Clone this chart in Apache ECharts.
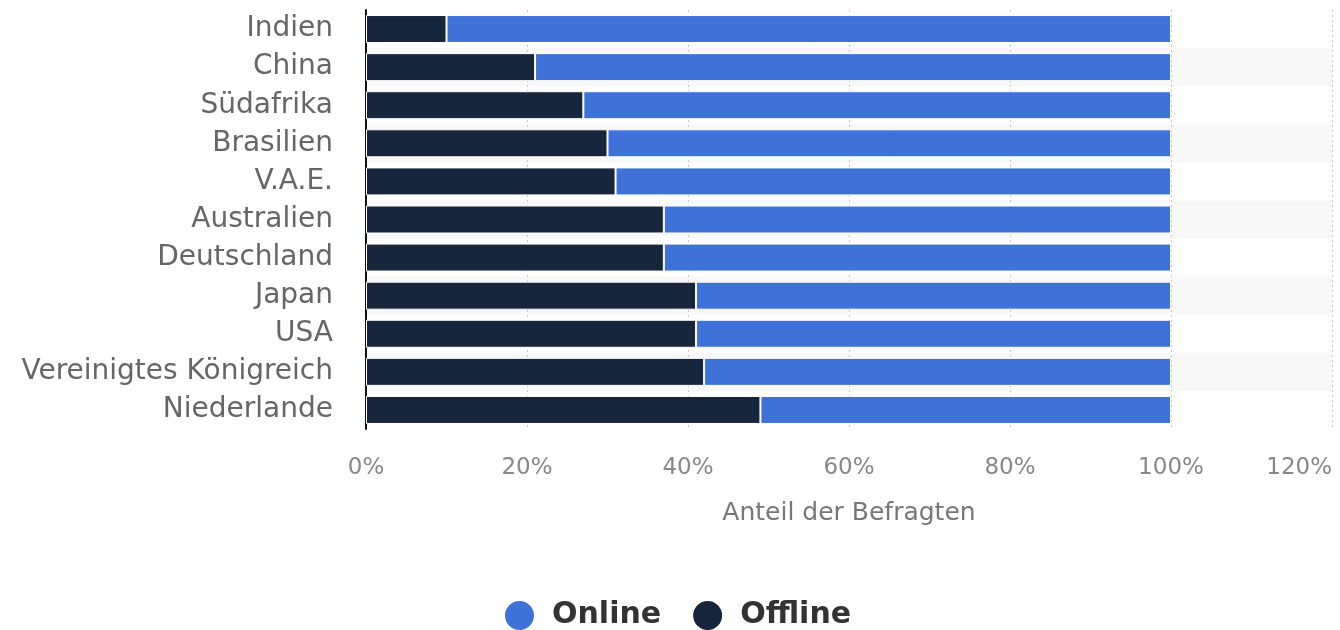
<!DOCTYPE html>
<html>
<head>
<meta charset="utf-8">
<script src="https://cdn.jsdelivr.net/npm/echarts@6/dist/echarts.min.js"></script>
<style>
  html, body { margin: 0; padding: 0; background: #fff; }
  #chart { width: 1340px; height: 630px; }
</style>
</head>
<body>
<div id="chart"></div>
<script>
// Länder (oben nach unten)
const countries = ['Indien', 'China', 'Südafrika', 'Brasilien', 'V.A.E.', 'Australien',
  'Deutschland', 'Japan', 'USA', 'Vereinigtes Königreich', 'Niederlande'];
const offline = [10, 21, 27, 30, 31, 37, 37, 41, 41, 42, 49];
const online = [90, 79, 73, 70, 69, 63, 63, 59, 59, 58, 51];
const xTicks = [0, 20, 40, 60, 80, 100, 120];

const font = 'DejaVu Sans';

const chart = echarts.init(document.getElementById('chart'));
chart.setOption({
  animation: false,
  grid: { left: 366, right: 8, top: 10, bottom: 201, outerBoundsMode: 'none' },
  legend: {
    data: ['Online', 'Offline'],
    top: 594,
    left: 498,
    icon: 'circle',
    itemWidth: 31,
    itemHeight: 31,
    itemGap: 30,
    textStyle: { fontFamily: font, fontSize: 30, fontWeight: 'bold', color: '#333', padding: [0, 0, 0, 12] }
  },
  xAxis: {
    type: 'value',
    min: xTicks[0],
    max: xTicks[xTicks.length - 1],
    interval: 20,
    name: 'Anteil der Befragten',
    nameLocation: 'middle',
    nameGap: 72,
    nameTextStyle: { fontFamily: font, fontSize: 25, color: '#777' },
    axisLine: { show: false },
    axisTick: { show: false },
    axisLabel: {
      formatter: '{value}%', margin: 28, alignMaxLabel: 'right',
      fontFamily: font, fontSize: 23, color: '#888'
    },
    splitLine: { show: true, lineStyle: { type: [2, 3], color: '#c8c8c8', width: 1 } }
  },
  yAxis: {
    type: 'category',
    inverse: true,
    data: countries,
    axisTick: { show: false },
    axisLine: { show: true, lineStyle: { color: '#111', width: 2 } },
    axisLabel: { margin: 33, fontFamily: font, fontSize: 28, color: '#666' },
    splitArea: { show: true, areaStyle: { color: ['rgba(255,255,255,0)', '#f8f8f8'] } }
  },
  series: [
    {
      name: 'Offline', type: 'bar', stack: 'total', data: offline,
      barWidth: 28,
      itemStyle: { color: '#17263c', borderColor: '#fff', borderWidth: 1 }
    },
    {
      name: 'Online', type: 'bar', stack: 'total', data: online,
      barWidth: 28,
      itemStyle: { color: '#3e72d8', borderColor: '#fff', borderWidth: 1 }
    }
  ]
});
</script>
</body>
</html>
